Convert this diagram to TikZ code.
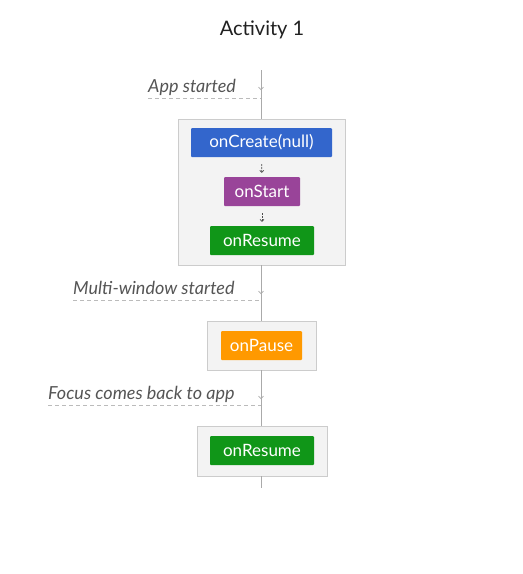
\documentclass[tikz,border=0pt]{standalone}
\usepackage{fontspec}
\setmainfont{Lato}
\usetikzlibrary{arrows.meta}
\definecolor{cblue}{HTML}{3366CC}
\definecolor{cpurple}{HTML}{994499}
\definecolor{cgreen}{HTML}{109618}
\definecolor{corange}{HTML}{FF9900}
\definecolor{boxfill}{HTML}{F3F3F3}
\definecolor{boxline}{HTML}{CCCCCC}
\definecolor{labelgray}{HTML}{555555}
\definecolor{linegray}{HTML}{AAAAAA}
\definecolor{dashgray}{HTML}{BBBBBB}
\definecolor{titlecol}{HTML}{212121}
\begin{document}
\begin{tikzpicture}[x=1pt,y=-1pt,
  method/.style={rectangle, rounded corners=1pt, text=white, inner sep=0pt,
    font=\fontsize{17}{20}\selectfont, minimum height=29pt},
  group/.style={rectangle, draw=boxline, fill=boxfill, line width=0.9pt, inner sep=0pt},
  event/.style={font=\itshape\fontsize{18}{21}\selectfont, text=labelgray, inner sep=0pt, anchor=base west},
  vline/.style={draw=linegray, line width=0.9pt},
  tick/.style={draw=linegray, line width=0.7pt, -{Straight Barb[length=2.5pt,width=5pt]}},
  eventline/.style={draw=dashgray, line width=0.9pt, dash pattern=on 4pt off 3pt},
  inner/.style={draw=black!70, line width=0.6pt, dash pattern=on 2pt off 1pt,
    -{Straight Barb[length=2pt,width=4pt]}, shorten <=7pt, shorten >=4pt}
]
\useasboundingbox (0,0) rectangle (523,574);
\fill[white] (0,0) rectangle (523,574);

\node[font=\fontsize{20}{24}\selectfont, text=titlecol, anchor=base] (title) at (262,35) {Activity 1};

% groups
\node[group, minimum width=167pt, minimum height=146pt] (g1) at (261.5,192) {};
\node[group, minimum width=109pt, minimum height=49pt] (g2) at (261.5,345.5) {};
\node[group, minimum width=130pt, minimum height=50pt] (g3) at (262,451) {};

% methods
\node[method, fill=cblue, minimum width=141pt] (create) at (261.5,142.5) {onCreate(null)};
\node[method, fill=cpurple, minimum width=76pt] (start) at (262,191.5) {onStart};
\node[method, fill=cgreen, minimum width=104pt] (resume1) at (262,240.5) {onResume};
\node[method, fill=corange, minimum width=81pt] (pause) at (261.5,345.5) {onPause};
\node[method, fill=cgreen, minimum width=104pt] (resume2) at (262,450.5) {onResume};

\draw[inner] (create) -- (start);
\draw[inner] (start) -- (resume1);

% timeline
\coordinate (top) at (261,70);
\coordinate (bottom) at (261,488);
\draw[vline] (top) -- (g1.north -| top);
\draw[vline] (g1.south -| top) -- (g2.north -| top);
\draw[vline] (g2.south -| top) -- (g3.north -| top);
\draw[vline] (g3.south -| top) -- (bottom);

% events
\node[event] (l1) at (148,92) {App started};
\node[event] (l2) at (73,294) {Multi-window started};
\node[event] (l3) at (48,399) {Focus comes back to app};

\coordinate (d1s) at (148,98);   \coordinate (d1e) at (261,98);
\coordinate (d2s) at (73,300.5); \coordinate (d2e) at (261,300.5);
\coordinate (d3s) at (48,405);   \coordinate (d3e) at (261,405);
\draw[eventline] (d1s) -- (d1e);
\draw[eventline] (d2s) -- (d2e);
\draw[eventline] (d3s) -- (d3e);

\coordinate (t1a) at (261,81);  \coordinate (t1b) at (261,90);
\coordinate (t2a) at (261,285); \coordinate (t2b) at (261,294);
\coordinate (t3a) at (261,390); \coordinate (t3b) at (261,399);
\draw[tick] (t1a) -- (t1b);
\draw[tick] (t2a) -- (t2b);
\draw[tick] (t3a) -- (t3b);
\end{tikzpicture}
\end{document}
